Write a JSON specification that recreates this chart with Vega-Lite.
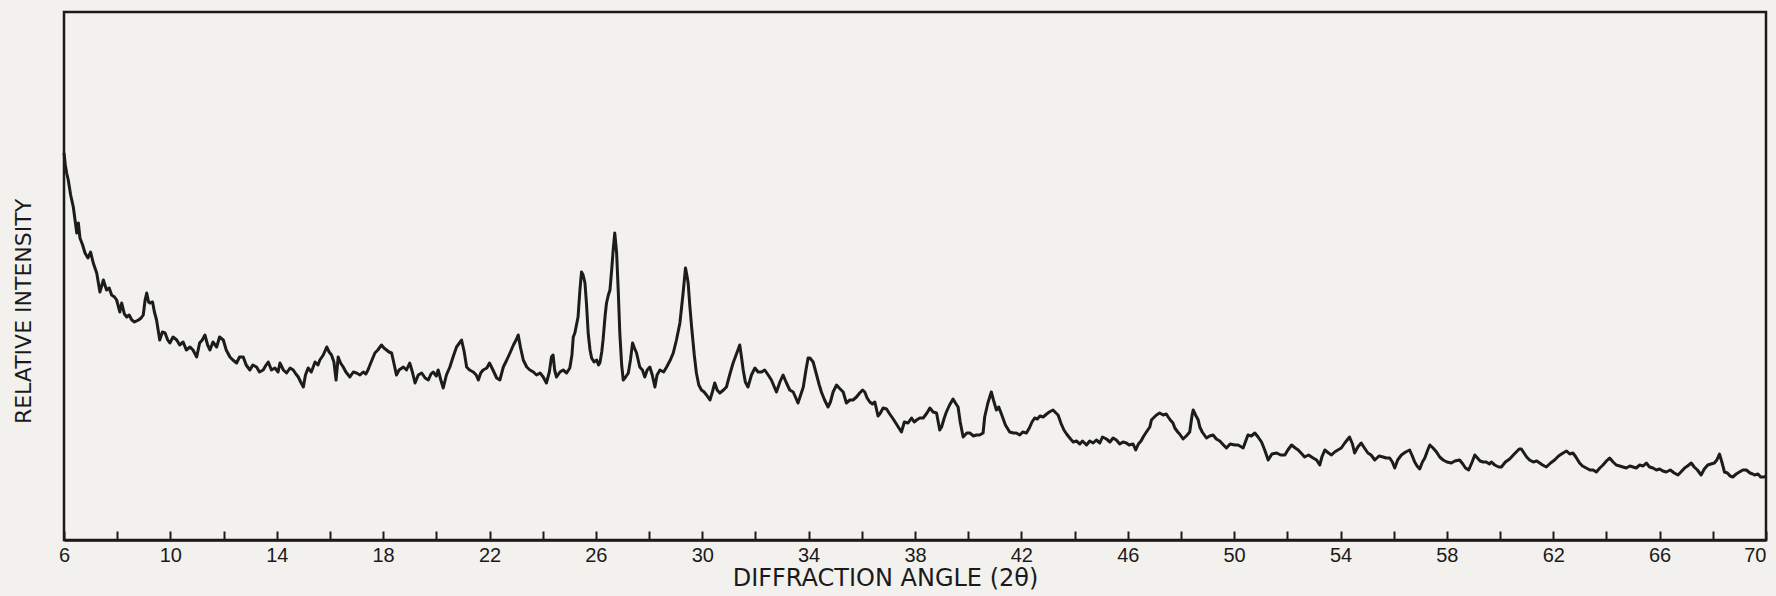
{
  "$schema": "https://vega.github.io/schema/vega-lite/v6.json",
  "width": 1702,
  "height": 528,
  "autosize": {"type": "none"},
  "padding": {"left": 64, "top": 12, "right": 10, "bottom": 56},
  "background": "#f2f1ed",
  "config": {
    "view": {"stroke": "#1a1a1a", "strokeWidth": 2.5, "fill": "#f2f1ed"},
    "font": "DejaVu Sans"
  },
  "data": {"values": [
{"a":6.0,"i":387},{"a":6.05,"i":375},{"a":6.1,"i":367},{"a":6.16,"i":360},{"a":6.25,"i":345},{"a":6.35,"i":333},{"a":6.48,"i":307},{"a":6.54,"i":317},{"a":6.6,"i":302},{"a":6.7,"i":295},{"a":6.79,"i":287},{"a":6.9,"i":282},{"a":7.0,"i":288},{"a":7.1,"i":277},{"a":7.23,"i":267},{"a":7.35,"i":248},{"a":7.48,"i":260},{"a":7.6,"i":250},{"a":7.7,"i":252},{"a":7.79,"i":245},{"a":7.9,"i":243},{"a":7.98,"i":240},{"a":8.1,"i":228},{"a":8.17,"i":237},{"a":8.27,"i":226},{"a":8.36,"i":223},{"a":8.45,"i":225},{"a":8.55,"i":220},{"a":8.65,"i":218},{"a":8.8,"i":220},{"a":8.9,"i":222},{"a":8.98,"i":225},{"a":9.05,"i":240},{"a":9.11,"i":247},{"a":9.18,"i":238},{"a":9.23,"i":237},{"a":9.33,"i":238},{"a":9.4,"i":228},{"a":9.48,"i":220},{"a":9.6,"i":200},{"a":9.7,"i":208},{"a":9.8,"i":207},{"a":9.9,"i":200},{"a":9.98,"i":197},{"a":10.1,"i":203},{"a":10.24,"i":200},{"a":10.35,"i":195},{"a":10.48,"i":198},{"a":10.6,"i":190},{"a":10.74,"i":193},{"a":10.85,"i":190},{"a":10.99,"i":183},{"a":11.1,"i":197},{"a":11.2,"i":200},{"a":11.3,"i":205},{"a":11.4,"i":195},{"a":11.49,"i":190},{"a":11.6,"i":198},{"a":11.74,"i":193},{"a":11.85,"i":203},{"a":11.99,"i":200},{"a":12.1,"i":190},{"a":12.24,"i":183},{"a":12.35,"i":180},{"a":12.49,"i":177},{"a":12.6,"i":183},{"a":12.74,"i":183},{"a":12.85,"i":175},{"a":12.99,"i":170},{"a":13.1,"i":175},{"a":13.24,"i":173},{"a":13.35,"i":168},{"a":13.49,"i":170},{"a":13.6,"i":175},{"a":13.68,"i":178},{"a":13.8,"i":170},{"a":13.93,"i":172},{"a":14.05,"i":168},{"a":14.12,"i":177},{"a":14.25,"i":170},{"a":14.37,"i":167},{"a":14.5,"i":172},{"a":14.62,"i":170},{"a":14.72,"i":166},{"a":14.81,"i":163},{"a":14.9,"i":158},{"a":15.0,"i":153},{"a":15.08,"i":165},{"a":15.18,"i":172},{"a":15.3,"i":168},{"a":15.44,"i":178},{"a":15.55,"i":175},{"a":15.62,"i":180},{"a":15.75,"i":185},{"a":15.88,"i":193},{"a":15.97,"i":188},{"a":16.06,"i":185},{"a":16.15,"i":178},{"a":16.23,"i":160},{"a":16.31,"i":183},{"a":16.4,"i":177},{"a":16.5,"i":173},{"a":16.6,"i":168},{"a":16.75,"i":163},{"a":16.88,"i":168},{"a":17.0,"i":167},{"a":17.13,"i":165},{"a":17.25,"i":168},{"a":17.35,"i":166},{"a":17.43,"i":170},{"a":17.55,"i":178},{"a":17.69,"i":187},{"a":17.8,"i":190},{"a":17.94,"i":195},{"a":18.03,"i":192},{"a":18.13,"i":190},{"a":18.22,"i":188},{"a":18.32,"i":187},{"a":18.42,"i":175},{"a":18.5,"i":165},{"a":18.6,"i":170},{"a":18.76,"i":173},{"a":18.88,"i":170},{"a":19.0,"i":177},{"a":19.1,"i":168},{"a":19.2,"i":157},{"a":19.32,"i":165},{"a":19.45,"i":167},{"a":19.58,"i":162},{"a":19.7,"i":160},{"a":19.8,"i":166},{"a":19.88,"i":168},{"a":20.0,"i":164},{"a":20.07,"i":170},{"a":20.17,"i":160},{"a":20.26,"i":152},{"a":20.38,"i":165},{"a":20.51,"i":173},{"a":20.63,"i":183},{"a":20.76,"i":193},{"a":20.87,"i":197},{"a":20.95,"i":200},{"a":21.05,"i":188},{"a":21.14,"i":173},{"a":21.25,"i":170},{"a":21.39,"i":168},{"a":21.5,"i":165},{"a":21.58,"i":160},{"a":21.67,"i":167},{"a":21.76,"i":170},{"a":21.9,"i":172},{"a":22.0,"i":177},{"a":22.13,"i":170},{"a":22.27,"i":162},{"a":22.39,"i":160},{"a":22.52,"i":173},{"a":22.65,"i":180},{"a":22.77,"i":187},{"a":22.9,"i":195},{"a":23.0,"i":200},{"a":23.08,"i":205},{"a":23.17,"i":192},{"a":23.27,"i":180},{"a":23.4,"i":173},{"a":23.52,"i":170},{"a":23.65,"i":168},{"a":23.77,"i":165},{"a":23.9,"i":167},{"a":24.02,"i":163},{"a":24.14,"i":157},{"a":24.25,"i":168},{"a":24.33,"i":183},{"a":24.39,"i":185},{"a":24.45,"i":170},{"a":24.52,"i":163},{"a":24.65,"i":168},{"a":24.77,"i":170},{"a":24.9,"i":167},{"a":25.02,"i":172},{"a":25.1,"i":185},{"a":25.15,"i":203},{"a":25.21,"i":207},{"a":25.33,"i":223},{"a":25.4,"i":250},{"a":25.46,"i":268},{"a":25.52,"i":265},{"a":25.59,"i":257},{"a":25.65,"i":235},{"a":25.71,"i":207},{"a":25.78,"i":190},{"a":25.84,"i":182},{"a":25.93,"i":178},{"a":26.03,"i":180},{"a":26.1,"i":175},{"a":26.15,"i":177},{"a":26.22,"i":188},{"a":26.27,"i":200},{"a":26.35,"i":225},{"a":26.4,"i":237},{"a":26.47,"i":245},{"a":26.53,"i":250},{"a":26.6,"i":272},{"a":26.65,"i":290},{"a":26.71,"i":307},{"a":26.78,"i":287},{"a":26.84,"i":250},{"a":26.9,"i":207},{"a":26.97,"i":175},{"a":27.03,"i":160},{"a":27.12,"i":163},{"a":27.22,"i":167},{"a":27.3,"i":180},{"a":27.38,"i":197},{"a":27.45,"i":192},{"a":27.53,"i":187},{"a":27.65,"i":173},{"a":27.75,"i":170},{"a":27.84,"i":163},{"a":27.93,"i":170},{"a":28.03,"i":173},{"a":28.12,"i":165},{"a":28.22,"i":153},{"a":28.3,"i":165},{"a":28.41,"i":170},{"a":28.55,"i":168},{"a":28.66,"i":173},{"a":28.8,"i":180},{"a":28.91,"i":187},{"a":29.03,"i":200},{"a":29.16,"i":217},{"a":29.28,"i":247},{"a":29.37,"i":272},{"a":29.42,"i":265},{"a":29.47,"i":257},{"a":29.53,"i":235},{"a":29.6,"i":213},{"a":29.7,"i":185},{"a":29.78,"i":167},{"a":29.87,"i":155},{"a":29.97,"i":150},{"a":30.07,"i":148},{"a":30.16,"i":145},{"a":30.29,"i":140},{"a":30.38,"i":148},{"a":30.47,"i":157},{"a":30.56,"i":150},{"a":30.66,"i":147},{"a":30.8,"i":150},{"a":30.91,"i":153},{"a":31.03,"i":165},{"a":31.16,"i":177},{"a":31.3,"i":187},{"a":31.41,"i":195},{"a":31.48,"i":182},{"a":31.54,"i":170},{"a":31.62,"i":158},{"a":31.72,"i":153},{"a":31.85,"i":165},{"a":31.98,"i":172},{"a":32.1,"i":168},{"a":32.23,"i":168},{"a":32.35,"i":170},{"a":32.48,"i":165},{"a":32.6,"i":160},{"a":32.79,"i":148},{"a":32.92,"i":158},{"a":33.04,"i":165},{"a":33.15,"i":158},{"a":33.29,"i":150},{"a":33.42,"i":148},{"a":33.52,"i":142},{"a":33.6,"i":137},{"a":33.7,"i":145},{"a":33.8,"i":153},{"a":33.9,"i":170},{"a":33.98,"i":182},{"a":34.05,"i":182},{"a":34.17,"i":178},{"a":34.3,"i":165},{"a":34.4,"i":155},{"a":34.48,"i":148},{"a":34.6,"i":140},{"a":34.73,"i":133},{"a":34.82,"i":138},{"a":34.92,"i":148},{"a":35.05,"i":155},{"a":35.15,"i":152},{"a":35.3,"i":148},{"a":35.42,"i":137},{"a":35.55,"i":140},{"a":35.67,"i":140},{"a":35.8,"i":143},{"a":35.92,"i":147},{"a":36.03,"i":150},{"a":36.11,"i":148},{"a":36.2,"i":142},{"a":36.3,"i":138},{"a":36.4,"i":136},{"a":36.49,"i":138},{"a":36.61,"i":124},{"a":36.7,"i":127},{"a":36.8,"i":132},{"a":36.93,"i":131},{"a":37.05,"i":126},{"a":37.18,"i":121},{"a":37.3,"i":116},{"a":37.49,"i":108},{"a":37.6,"i":118},{"a":37.74,"i":117},{"a":37.87,"i":122},{"a":37.97,"i":118},{"a":38.06,"i":120},{"a":38.18,"i":122},{"a":38.31,"i":122},{"a":38.45,"i":127},{"a":38.56,"i":132},{"a":38.68,"i":128},{"a":38.81,"i":127},{"a":38.93,"i":110},{"a":39.0,"i":113},{"a":39.1,"i":122},{"a":39.18,"i":128},{"a":39.3,"i":135},{"a":39.43,"i":141},{"a":39.52,"i":137},{"a":39.62,"i":133},{"a":39.7,"i":118},{"a":39.81,"i":103},{"a":39.95,"i":107},{"a":40.06,"i":107},{"a":40.2,"i":104},{"a":40.31,"i":105},{"a":40.43,"i":105},{"a":40.56,"i":107},{"a":40.62,"i":123},{"a":40.74,"i":137},{"a":40.87,"i":148},{"a":40.95,"i":140},{"a":41.06,"i":130},{"a":41.15,"i":133},{"a":41.25,"i":126},{"a":41.4,"i":115},{"a":41.56,"i":108},{"a":41.7,"i":107},{"a":41.81,"i":107},{"a":41.94,"i":105},{"a":42.05,"i":108},{"a":42.19,"i":107},{"a":42.3,"i":112},{"a":42.4,"i":118},{"a":42.5,"i":122},{"a":42.6,"i":121},{"a":42.7,"i":124},{"a":42.82,"i":123},{"a":42.95,"i":126},{"a":43.05,"i":128},{"a":43.19,"i":130},{"a":43.3,"i":127},{"a":43.38,"i":125},{"a":43.5,"i":116},{"a":43.6,"i":110},{"a":43.7,"i":106},{"a":43.85,"i":101},{"a":43.95,"i":98},{"a":44.07,"i":99},{"a":44.2,"i":96},{"a":44.3,"i":99},{"a":44.45,"i":95},{"a":44.57,"i":99},{"a":44.7,"i":97},{"a":44.82,"i":100},{"a":44.95,"i":97},{"a":45.05,"i":103},{"a":45.2,"i":101},{"a":45.33,"i":98},{"a":45.45,"i":102},{"a":45.57,"i":100},{"a":45.7,"i":96},{"a":45.82,"i":98},{"a":45.95,"i":97},{"a":46.05,"i":95},{"a":46.2,"i":96},{"a":46.3,"i":90},{"a":46.4,"i":96},{"a":46.5,"i":99},{"a":46.58,"i":103},{"a":46.7,"i":108},{"a":46.83,"i":113},{"a":46.89,"i":120},{"a":47.0,"i":123},{"a":47.08,"i":125},{"a":47.2,"i":127},{"a":47.33,"i":125},{"a":47.45,"i":126},{"a":47.52,"i":123},{"a":47.6,"i":120},{"a":47.7,"i":117},{"a":47.77,"i":112},{"a":47.88,"i":108},{"a":47.95,"i":106},{"a":48.08,"i":101},{"a":48.2,"i":104},{"a":48.33,"i":108},{"a":48.42,"i":125},{"a":48.46,"i":130},{"a":48.55,"i":125},{"a":48.65,"i":120},{"a":48.71,"i":113},{"a":48.8,"i":108},{"a":48.96,"i":102},{"a":49.08,"i":104},{"a":49.21,"i":105},{"a":49.33,"i":101},{"a":49.46,"i":99},{"a":49.6,"i":95},{"a":49.71,"i":92},{"a":49.85,"i":96},{"a":50.03,"i":95},{"a":50.15,"i":95},{"a":50.34,"i":92},{"a":50.45,"i":100},{"a":50.52,"i":105},{"a":50.65,"i":104},{"a":50.78,"i":107},{"a":50.9,"i":103},{"a":51.03,"i":98},{"a":51.15,"i":90},{"a":51.28,"i":80},{"a":51.42,"i":86},{"a":51.6,"i":87},{"a":51.75,"i":85},{"a":51.91,"i":85},{"a":52.02,"i":90},{"a":52.16,"i":95},{"a":52.3,"i":92},{"a":52.41,"i":90},{"a":52.55,"i":86},{"a":52.65,"i":83},{"a":52.8,"i":85},{"a":52.97,"i":82},{"a":53.1,"i":80},{"a":53.22,"i":75},{"a":53.3,"i":83},{"a":53.41,"i":90},{"a":53.55,"i":87},{"a":53.66,"i":85},{"a":53.78,"i":88},{"a":53.9,"i":90},{"a":54.03,"i":92},{"a":54.16,"i":97},{"a":54.25,"i":100},{"a":54.34,"i":103},{"a":54.45,"i":96},{"a":54.53,"i":87},{"a":54.65,"i":93},{"a":54.78,"i":97},{"a":54.9,"i":92},{"a":55.03,"i":87},{"a":55.15,"i":85},{"a":55.29,"i":80},{"a":55.45,"i":84},{"a":55.6,"i":83},{"a":55.72,"i":82},{"a":55.85,"i":82},{"a":55.95,"i":78},{"a":56.04,"i":72},{"a":56.15,"i":80},{"a":56.29,"i":85},{"a":56.45,"i":88},{"a":56.6,"i":90},{"a":56.7,"i":84},{"a":56.79,"i":78},{"a":56.88,"i":74},{"a":56.98,"i":71},{"a":57.08,"i":78},{"a":57.17,"i":82},{"a":57.28,"i":90},{"a":57.36,"i":95},{"a":57.48,"i":92},{"a":57.61,"i":88},{"a":57.73,"i":83},{"a":57.86,"i":80},{"a":58.0,"i":78},{"a":58.17,"i":77},{"a":58.3,"i":79},{"a":58.48,"i":80},{"a":58.6,"i":76},{"a":58.7,"i":72},{"a":58.82,"i":70},{"a":58.95,"i":78},{"a":59.05,"i":85},{"a":59.15,"i":82},{"a":59.25,"i":79},{"a":59.36,"i":78},{"a":59.48,"i":78},{"a":59.6,"i":76},{"a":59.67,"i":78},{"a":59.8,"i":75},{"a":59.95,"i":73},{"a":60.05,"i":73},{"a":60.2,"i":78},{"a":60.36,"i":81},{"a":60.5,"i":85},{"a":60.61,"i":88},{"a":60.72,"i":91},{"a":60.8,"i":91},{"a":60.9,"i":87},{"a":61.0,"i":83},{"a":61.11,"i":80},{"a":61.25,"i":78},{"a":61.38,"i":79},{"a":61.49,"i":77},{"a":61.6,"i":75},{"a":61.74,"i":73},{"a":61.9,"i":77},{"a":62.05,"i":80},{"a":62.2,"i":84},{"a":62.37,"i":87},{"a":62.5,"i":89},{"a":62.62,"i":86},{"a":62.74,"i":87},{"a":62.85,"i":83},{"a":62.99,"i":77},{"a":63.1,"i":74},{"a":63.24,"i":72},{"a":63.38,"i":70},{"a":63.5,"i":70},{"a":63.62,"i":68},{"a":63.75,"i":72},{"a":63.87,"i":75},{"a":64.0,"i":79},{"a":64.12,"i":82},{"a":64.25,"i":78},{"a":64.37,"i":75},{"a":64.5,"i":74},{"a":64.62,"i":73},{"a":64.75,"i":72},{"a":64.88,"i":74},{"a":65.0,"i":73},{"a":65.12,"i":72},{"a":65.25,"i":75},{"a":65.38,"i":74},{"a":65.5,"i":77},{"a":65.62,"i":73},{"a":65.75,"i":72},{"a":65.88,"i":70},{"a":66.0,"i":71},{"a":66.12,"i":69},{"a":66.25,"i":68},{"a":66.4,"i":70},{"a":66.55,"i":67},{"a":66.69,"i":65},{"a":66.8,"i":68},{"a":66.94,"i":72},{"a":67.05,"i":74},{"a":67.19,"i":77},{"a":67.3,"i":73},{"a":67.42,"i":70},{"a":67.56,"i":65},{"a":67.68,"i":71},{"a":67.81,"i":75},{"a":67.93,"i":76},{"a":68.06,"i":77},{"a":68.15,"i":80},{"a":68.25,"i":86},{"a":68.34,"i":78},{"a":68.44,"i":68},{"a":68.55,"i":67},{"a":68.65,"i":64},{"a":68.75,"i":63},{"a":68.88,"i":66},{"a":69.0,"i":68},{"a":69.13,"i":70},{"a":69.26,"i":70},{"a":69.4,"i":67},{"a":69.5,"i":66},{"a":69.57,"i":65},{"a":69.7,"i":66},{"a":69.8,"i":63},{"a":69.92,"i":63},{"a":70.0,"i":64}
  ]},
  "mark": {"type": "line", "color": "#1c1c1c", "strokeWidth": 3, "strokeJoin": "round"},
  "encoding": {
    "x": {
      "field": "a", "type": "quantitative",
      "scale": {"domain": [6, 70], "nice": false, "zero": false},
      "axis": {
        "values": [6,8,10,12,14,16,18,20,22,24,26,28,30,32,34,36,38,40,42,44,46,48,50,52,54,56,58,60,62,64,66,68,70],
        "labelExpr": "(datum.value - 6) % 4 == 0 ? datum.label : ''",
        "grid": false,
        "domainColor": "#1a1a1a", "domainWidth": 2.5,
        "tickColor": "#1a1a1a", "tickWidth": 2, "tickSize": -9,
        "labelFont": "Liberation Sans", "labelFontSize": 20, "labelColor": "#1a1a1a",
        "labelPadding": 14, "labelBaseline": "top", "labelFlush": false, "labelOverlap": false,
        "labelAlign": {"expr": "datum.value == 70 ? 'right' : 'center'"},
        "title": "DIFFRACTION ANGLE (2θ)",
        "titleFont": "DejaVu Sans", "titleFontSize": 24, "titleFontWeight": "normal", "titleColor": "#1a1a1a",
        "titleX": 821, "titleY": 26, "titleAlign": "center", "titleBaseline": "top", "titleAnchor": null
      }
    },
    "y": {
      "field": "i", "type": "quantitative",
      "scale": {"domain": [0, 528], "nice": false, "zero": true},
      "axis": {
        "domain": false, "ticks": false, "labels": false, "grid": false,
        "title": "RELATIVE INTENSITY",
        "titleFont": "DejaVu Sans", "titleFontSize": 22, "titleFontWeight": "normal", "titleColor": "#1a1a1a",
        "titleX": -41, "titleY": 299, "titleAngle": -90, "titleAlign": "center", "titleBaseline": "middle"
      }
    }
  }
}
